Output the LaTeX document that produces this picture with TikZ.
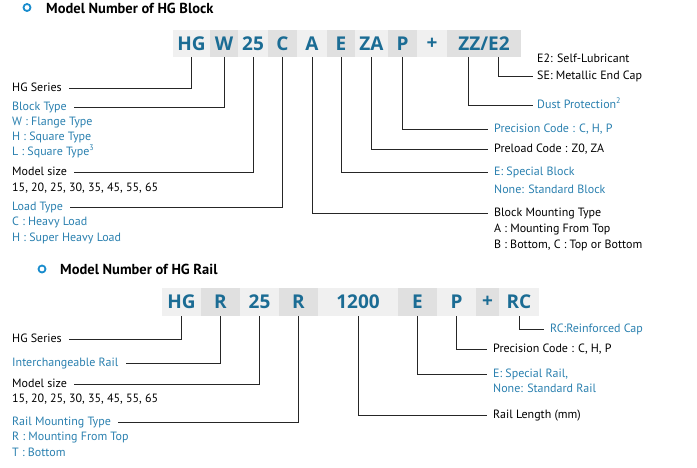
\documentclass[tikz,border=0pt]{standalone}
\usepackage{fontspec}
\setmainfont{PT Sans}
\newfontfamily\codefont{Open Sans}
\definecolor{codeblue}{RGB}{27,108,148}
\definecolor{lblblue}{RGB}{42,128,175}
\definecolor{ringblue}{RGB}{25,140,205}
\definecolor{boxlight}{RGB}{240,240,240}
\definecolor{boxdark}{RGB}{224,224,224}
\tikzset{
  code/.style={inner sep=0, text=codeblue, font=\codefont\bfseries\fontsize{19}{19}\selectfont},
  lite/.style={code, fill=boxlight},
  dark/.style={code, fill=boxdark},
  lbl/.style={anchor=west, inner sep=0, text height=8pt, text depth=2pt, font=\fontsize{12}{12}\selectfont},
  blbl/.style={lbl, text=lblblue},
  conn/.style={draw=black!85, line width=1pt, shorten >=7pt},
  title/.style={anchor=west, inner sep=0, font=\bfseries\fontsize{14.5}{14.5}\selectfont},
  ring/.style={circle, draw=ringblue, line width=1.8pt, minimum size=7pt, inner sep=0},
}
\begin{document}
\begin{tikzpicture}[x=1pt, y=-1pt]
  \useasboundingbox (0,0) rectangle (697,467);

  % block
  \node[ring] (dotb) at (27,7.5) {};
  \node[title] (titleb) at (46,8) {Model Number of HG Block};

  \node[lite, minimum width=37pt, minimum height=27pt] (bhg) at (191.5,43.5) {HG};
  \node[dark, minimum width=28pt, minimum height=27pt] (bw) at (224,43.5) {W};
  \node[lite, minimum width=30pt, minimum height=27pt] (bsize) at (253,43.5) {25};
  \node[dark, minimum width=29pt, minimum height=27pt] (bc) at (282.5,43.5) {C};
  \node[lite, minimum width=30pt, minimum height=27pt] (ba) at (312,43.5) {A};
  \node[dark, minimum width=28pt, minimum height=27pt] (be) at (341,43.5) {E};
  \node[lite, minimum width=33pt, minimum height=27pt] (bza) at (371.5,43.5) {ZA};
  \node[dark, minimum width=29pt, minimum height=27pt] (bp) at (402.5,43.5) {P};
  \node[lite, minimum width=30pt, minimum height=27pt] (bplus) at (432,43.5) {+};
  \node[dark, minimum width=74pt, minimum height=27pt] (bzz) at (484,43.5) {ZZ/E2};
  \coordinate (bzzleg) at (468,57);
  \coordinate (be2leg) at (498,57);

  \node[lbl] (bser) at (12,88) {HG Series};
  \node[blbl] (btype) at (12,107) {Block Type};
  \node[blbl] at (12,122) {W : Flange Type};
  \node[blbl] at (12,137) {H : Square Type};
  \node[blbl] at (12,152) {L : Square Type\textsuperscript{3}};
  \node[lbl] (bmsize) at (12,172) {Model size};
  \node[lbl] at (12,188) {15, 20, 25, 30, 35, 45, 55, 65};
  \node[blbl] (bload) at (12,207) {Load Type};
  \node[blbl] at (12,222) {C : Heavy Load};
  \node[blbl] at (12,238) {H : Super Heavy Load};

  \node[lbl, align=left] (be2txt) at (537,76.5) {E2: Self-Lubricant\\[5pt]SE: Metallic End Cap};
  \node[blbl] (bdust) at (537,105) {Dust Protection\textsuperscript{2}};
  \node[blbl] (bprec) at (494,129) {Precision Code : C, H, P};
  \node[lbl] (bpre) at (494,149) {Preload Code : Z0, ZA};
  \node[blbl] (bspec) at (494,172) {E: Special Block};
  \node[blbl] at (494,190) {None: Standard Block};
  \node[lbl] (bmount) at (494,213) {Block Mounting Type};
  \node[lbl] at (494,229) {A : Mounting From Top};
  \node[lbl] at (494,245) {B : Bottom, C : Top or Bottom};

  \draw[conn] (bhg.south) |- (bser.east);
  \draw[conn] (bw.south) |- (btype.east);
  \draw[conn] (bsize.south) |- (bmsize.east);
  \draw[conn] (bc.south) |- (bload.east);
  \draw[conn, shorten >=6pt] (ba.south) |- (bmount.west);
  \draw[conn, shorten >=6pt] (be.south) |- (bspec.west);
  \draw[conn, shorten >=6pt] (bza.south) |- (bpre.west);
  \draw[conn, shorten >=6pt] (bp.south) |- (bprec.west);
  \draw[conn, shorten >=4pt] (bzzleg) |- (bdust.west);
  \draw[conn, shorten >=4pt] (be2leg) |- (be2txt.west);

  % rail
  \node[ring] (dotr) at (42,269) {};
  \node[title] (titler) at (60,269) {Model Number of HG Rail};

  \node[lite, minimum width=39pt, minimum height=28pt] (rhg) at (181.5,302) {HG};
  \node[dark, minimum width=39pt, minimum height=28pt] (rr) at (220.5,302) {R};
  \node[lite, minimum width=39pt, minimum height=28pt] (rsize) at (259.5,302) {25};
  \node[dark, minimum width=39pt, minimum height=28pt] (rmnt) at (298.5,302) {R};
  \node[lite, minimum width=80pt, minimum height=28pt] (rlen) at (358,302) {1200};
  \node[dark, minimum width=39pt, minimum height=28pt] (re) at (417.5,302) {E};
  \node[lite, minimum width=39pt, minimum height=28pt] (rp) at (456.5,302) {P};
  \node[dark, minimum width=23pt, minimum height=28pt] (rplus) at (487.5,302) {+};
  \node[lite, minimum width=40pt, minimum height=28pt] (rrc) at (519,302) {RC};

  \node[lbl] (rser) at (12,339) {HG Series};
  \node[blbl] (rint) at (12,363) {Interchangeable Rail};
  \node[lbl] (rmsize) at (12,384) {Model size};
  \node[lbl] at (12,399) {15, 20, 25, 30, 35, 45, 55, 65};
  \node[blbl] (rmtype) at (12,422) {Rail Mounting Type};
  \node[blbl] at (12,437) {R : Mounting From Top};
  \node[blbl] at (12,453) {T : Bottom};

  \node[blbl] (rrctxt) at (550,329) {RC:Reinforced Cap};
  \node[lbl] (rprec) at (493,349) {Precision Code : C, H, P};
  \node[blbl] (rspec) at (493,374) {E: Special Rail,};
  \node[blbl] at (493,389) {None: Standard Rail};
  \node[lbl] (rlentxt) at (493,415.5) {Rail Length (mm)};

  \draw[conn] (rhg.south) |- (rser.east);
  \draw[conn] (rr.south) |- (rint.east);
  \draw[conn] (rsize.south) |- (rmsize.east);
  \draw[conn] (rmnt.south) |- (rmtype.east);
  \draw[conn, shorten >=6pt] (rlen.south) |- (rlentxt.west);
  \draw[conn, shorten >=6pt] (re.south) |- (rspec.west);
  \draw[conn, shorten >=6pt] (rp.south) |- (rprec.west);
  \draw[conn, shorten >=6pt] (rrc.south) |- (rrctxt.west);
\end{tikzpicture}
\end{document}
